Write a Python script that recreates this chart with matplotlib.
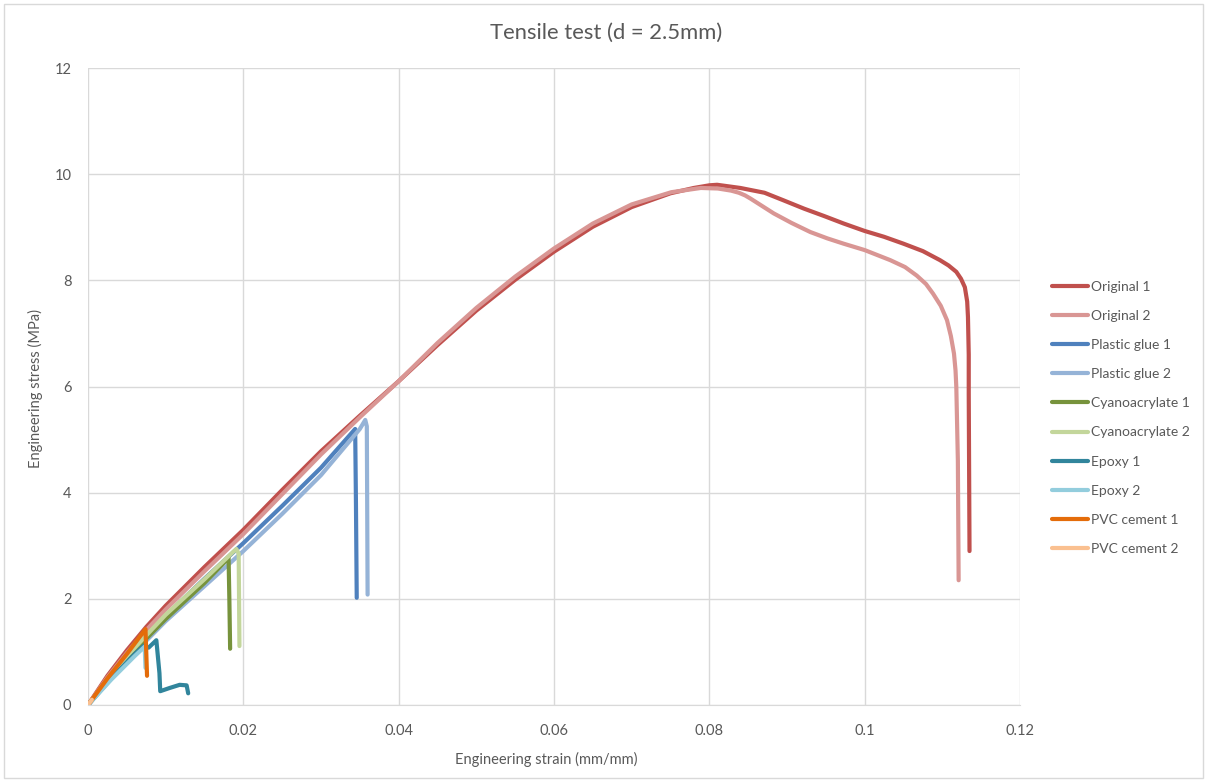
import matplotlib
matplotlib.use("Agg")
import matplotlib.pyplot as plt
from matplotlib.patches import Rectangle

plt.rcParams['font.family'] = ['Lato', 'DejaVu Sans']

# ---- data (strain mm/mm, stress MPa) ----
orig1_x = [0, 0.0025, 0.005, 0.0075, 0.01, 0.015, 0.02, 0.025, 0.03, 0.035, 0.04, 0.045, 0.05,
           0.055, 0.06, 0.065, 0.07, 0.075, 0.078, 0.08, 0.081, 0.084, 0.0871, 0.0895, 0.0922,
           0.0948, 0.0973, 0.1, 0.1025, 0.105, 0.1075, 0.1097, 0.1108, 0.1118, 0.1124, 0.1129,
           0.1132, 0.1133, 0.1134, 0.1134, 0.1135]
orig1_y = [0, 0.55, 1.03, 1.47, 1.87, 2.6, 3.3, 4.05, 4.78, 5.45, 6.1, 6.78, 7.43,
           8.01, 8.54, 9.01, 9.38, 9.64, 9.74, 9.79, 9.80, 9.74, 9.65, 9.51, 9.35,
           9.21, 9.07, 8.93, 8.82, 8.69, 8.55, 8.38, 8.28, 8.16, 8.03, 7.87,
           7.6, 7.31, 6.6, 5.86, 2.9]

orig2_x = [0, 0.0025, 0.005, 0.0075, 0.01, 0.015, 0.02, 0.025, 0.03, 0.035, 0.04, 0.045, 0.05,
           0.055, 0.06, 0.065, 0.07, 0.0751, 0.0789, 0.0811, 0.0828, 0.0838, 0.0846, 0.0853,
           0.0868, 0.0883, 0.0906, 0.093, 0.0952, 0.0973, 0.1, 0.1033, 0.1052, 0.1067, 0.1079,
           0.1088, 0.1098, 0.1106, 0.1111, 0.1115, 0.1117, 0.1118, 0.1119, 0.112, 0.1121]
orig2_y = [0, 0.52, 0.98, 1.41, 1.8, 2.52, 3.22, 3.97, 4.72, 5.42, 6.1, 6.82, 7.48,
           8.07, 8.6, 9.07, 9.43, 9.66, 9.74, 9.73, 9.69, 9.65, 9.6, 9.54,
           9.4, 9.26, 9.08, 8.91, 8.79, 8.69, 8.57, 8.38, 8.25, 8.09, 7.93,
           7.75, 7.52, 7.25, 6.95, 6.62, 6.3, 5.99, 5.3, 4.6, 2.35]

pg1_x = [0, 0.005, 0.01, 0.015, 0.02, 0.025, 0.03, 0.0344, 0.0345, 0.0346]
pg1_y = [0, 0.9, 1.68, 2.38, 3.05, 3.75, 4.47, 5.2, 3.8, 2.02]

pg2_x = [0, 0.005, 0.01, 0.015, 0.02, 0.025, 0.03, 0.035, 0.0357, 0.0359, 0.036]
pg2_y = [0, 0.84, 1.58, 2.24, 2.9, 3.6, 4.33, 5.2, 5.37, 5.25, 2.08]

cy1_x = [0, 0.005, 0.01, 0.015, 0.0181, 0.0182, 0.0183]
cy1_y = [0, 0.88, 1.62, 2.3, 2.77, 2.0, 1.06]

cy2_x = [0, 0.005, 0.01, 0.015, 0.0188, 0.0191, 0.0194, 0.0195]
cy2_y = [0, 0.92, 1.7, 2.37, 2.9, 2.94, 2.85, 1.11]

ep1_x = [0, 0.003, 0.006, 0.0072, 0.0078, 0.0088, 0.0092, 0.0093, 0.0105, 0.0118, 0.0127, 0.0129]
ep1_y = [0, 0.5, 0.96, 1.12, 1.08, 1.22, 0.6, 0.26, 0.32, 0.38, 0.37, 0.22]

ep2_x = [0, 0.003, 0.006, 0.0073, 0.0074]
ep2_y = [0, 0.48, 0.92, 1.1, 0.7]

pvc1_x = [0, 0.0025, 0.005, 0.0074, 0.0075, 0.0076]
pvc1_y = [0, 0.5, 0.96, 1.43, 1.0, 0.55]

pvc2_x = [0, 0.0005]
pvc2_y = [0, 0.1]

series = [
    ("Original 1", orig1_x, orig1_y, "#C0504D"),
    ("Original 2", orig2_x, orig2_y, "#D99694"),
    ("Plastic glue 1", pg1_x, pg1_y, "#4F81BD"),
    ("Plastic glue 2", pg2_x, pg2_y, "#95B3D7"),
    ("Cyanoacrylate 1", cy1_x, cy1_y, "#77933C"),
    ("Cyanoacrylate 2", cy2_x, cy2_y, "#C3D69B"),
    ("Epoxy 1", ep1_x, ep1_y, "#31859C"),
    ("Epoxy 2", ep2_x, ep2_y, "#93CDDD"),
    ("PVC cement 1", pvc1_x, pvc1_y, "#E46C0A"),
    ("PVC cement 2", pvc2_x, pvc2_y, "#FAC090"),
]

x_ticks = [0, 0.02, 0.04, 0.06, 0.08, 0.1, 0.12]
x_tick_labels = ["0", "0.02", "0.04", "0.06", "0.08", "0.1", "0.12"]
y_ticks = [0, 2, 4, 6, 8, 10, 12]
y_tick_labels = ["0", "2", "4", "6", "8", "10", "12"]

W, H = 1207, 782
fig = plt.figure(figsize=(W / 100, H / 100), dpi=100)
ax = fig.add_axes([88 / W, 1 - 705 / H, (1020 - 88) / W, (705 - 68) / H])

for name, xs, ys, c in series:
    ax.plot(xs, ys, color=c, lw=3.0, label=name, solid_capstyle='round', solid_joinstyle='round')

ax.set_xlim(0, 0.12)
ax.set_ylim(0, 12)
ax.set_xticks(x_ticks)
ax.set_xticklabels(x_tick_labels)
ax.set_yticks(y_ticks)
ax.set_yticklabels(y_tick_labels)
ax.grid(True, color="#D9D9D9", lw=1.0)
ax.set_axisbelow(True)
for s in ["top", "right", "left"]:
    ax.spines[s].set_visible(False)
ax.spines["bottom"].set_color("#D9D9D9")
ax.tick_params(length=0, labelsize=10.5, labelcolor="#595959")
ax.tick_params(axis='x', pad=14)
ax.tick_params(axis='y', pad=12)

ax.set_xlabel("Engineering strain (mm/mm)", fontsize=10.5, color="#595959")
ax.xaxis.set_label_coords((546 - 88) / (1020 - 88), -(752 - 705) / (705 - 68))
ax.set_ylabel("Engineering stress (MPa)", fontsize=10.5, color="#595959")
ax.yaxis.set_label_coords(-(88 - 43) / (1020 - 88), (705 - 388) / (705 - 68))
fig.text(606 / W, 1 - 33 / H, "Tensile test (d = 2.5mm)", ha="center", va="center",
         fontsize=15.8, color="#595959")

leg = ax.legend(loc="upper left", bbox_to_anchor=(1052 / W, 1 - 281 / H),
                bbox_transform=fig.transFigure, frameon=False, fontsize=10,
                handlelength=2.6, handletextpad=0.2, labelspacing=1.23,
                borderaxespad=0, borderpad=0)
for t in leg.get_texts():
    t.set_color("#595959")

fig.patches.append(Rectangle((4 / W, 4 / H), (W - 8) / W, (H - 8) / H,
                             transform=fig.transFigure, fill=False,
                             edgecolor="#D9D9D9", lw=1.0))

fig.savefig("out.png", dpi=100, facecolor="white")
